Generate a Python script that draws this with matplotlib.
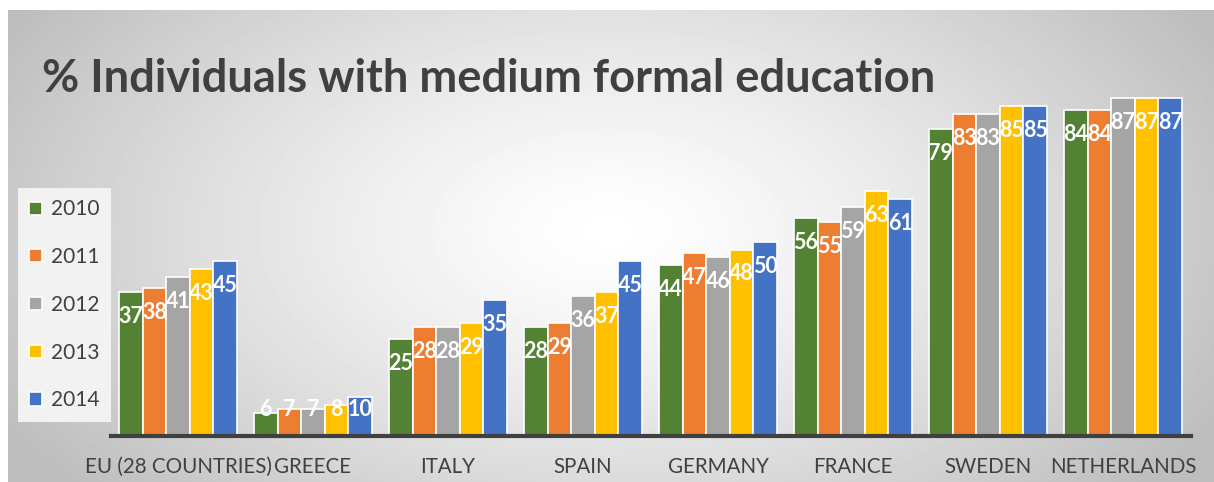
import numpy as np
import matplotlib
matplotlib.use("Agg")
import matplotlib.pyplot as plt

plt.rcParams['font.family'] = ['Lato', 'DejaVu Sans']

countries = ['EU (28 COUNTRIES)', 'GREECE', 'ITALY', 'SPAIN', 'GERMANY',
             'FRANCE', 'SWEDEN', 'NETHERLANDS']
years = ['2010', '2011', '2012', '2013', '2014']
v2010 = [37, 6, 25, 28, 44, 56, 79, 84]
v2011 = [38, 7, 28, 29, 47, 55, 83, 84]
v2012 = [41, 7, 28, 36, 46, 59, 83, 87]
v2013 = [43, 8, 29, 37, 48, 63, 85, 87]
v2014 = [45, 10, 35, 45, 50, 61, 85, 87]
series = [v2010, v2011, v2012, v2013, v2014]
colors = ['#548235', '#ED7D31', '#A5A5A5', '#FFC000', '#4472C4']

W, H = 1214, 482
fig = plt.figure(figsize=(W / 100, H / 100), dpi=100)

# radial grey background
bg = fig.add_axes([8 / W, 0, 1 - 8 / W, 1 - 10 / H])
yy, xx = np.mgrid[0:472, 0:1206]
r = np.sqrt(((xx - 600) / 700.0) ** 2 + ((yy - 220) / 400.0) ** 2)
shade = 1 - 0.26 * np.clip(r, 0, 1) ** 1.3
bg.imshow(shade, cmap='gray', vmin=0, vmax=1, aspect='auto')
bg.axis('off')

ax = fig.add_axes([110.5 / W, 46 / H, 1080 / W, 388.5 / H])
ax.patch.set_alpha(0)
x = np.arange(len(countries))
bw = 0.875 / 5
for i, (vals, col) in enumerate(zip(series, colors)):
    pos = x - 0.4375 + bw * (i + 0.5)
    ax.bar(pos, vals, width=bw, color=col, edgecolor='white', linewidth=1.2,
           label=years[i], zorder=2)
    for px, v in zip(pos, vals):
        ax.text(px, max(v - 6.3, 6.9), str(v), ha='center', va='center',
                color='white', fontsize=15.5, fontweight='bold', zorder=3)

ax.set_xlim(-0.5, 7.5)
ax.set_ylim(0, 100)
ax.set_yticks([])
ax.set_xticks(x)
ax.set_xticklabels(countries, fontsize=14.8, color='#404040')
ax.tick_params(axis='x', length=0, pad=15)
for s in ['top', 'right', 'left']:
    ax.spines[s].set_visible(False)
ax.spines['bottom'].set_color('#404040')
ax.spines['bottom'].set_linewidth(3)

leg = fig.legend(loc='upper left', bbox_to_anchor=(18 / W, 1 - 188 / H),
                 fontsize=15, frameon=True, fancybox=False, handlelength=0.6,
                 handleheight=0.6, handletextpad=0.45, labelspacing=1.33,
                 borderpad=0.55, borderaxespad=0, labelcolor='#404040')
leg.get_frame().set_facecolor('#F2F2F2')
leg.get_frame().set_edgecolor('none')
leg.get_frame().set_alpha(1)

fig.text(42 / W, 1 - 79 / H, '% Individuals with medium formal education',
         fontsize=32.7, fontweight='bold', color='#404040', va='center')

fig.savefig('out.png', dpi=100)
